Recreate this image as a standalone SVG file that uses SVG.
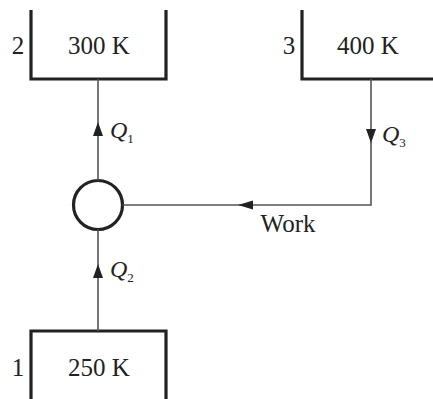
<svg xmlns="http://www.w3.org/2000/svg" width="433" height="399" viewBox="0 0 433 399">
<style>
.res{fill:none;stroke:#222;stroke-width:3.2}
.ln{fill:none;stroke:#555;stroke-width:1.6}
.t{font-family:"Liberation Serif","DejaVu Serif",serif;font-size:25px;fill:#222}
.q{font-family:"Liberation Serif","DejaVu Serif",serif;font-size:24px;font-style:italic;fill:#222}
.s{font-size:13px;font-style:normal}
</style>
<g id="reservoir2">
<path class="res" d="M31,10 V79 H166 V10"/>
<text class="t" x="18" y="54" text-anchor="middle">2</text>
<text class="t" x="99" y="54" text-anchor="middle">300 K</text>
</g>
<g id="reservoir3">
<path class="res" d="M302,10 V79 H433"/>
<text class="t" x="289" y="54" text-anchor="middle">3</text>
<text class="t" x="368" y="54" text-anchor="middle">400 K</text>
</g>
<g id="reservoir1">
<path class="res" d="M31,399 V331 H166 V399"/>
<text class="t" x="18" y="376" text-anchor="middle">1</text>
<text class="t" x="99" y="376" text-anchor="middle">250 K</text>
</g>
<g id="engine">
<circle cx="98" cy="205" r="24.5" fill="none" stroke="#222" stroke-width="3.2"/>
</g>
<g id="connectors">
<path class="ln" d="M98,180.5 V79"/>
<path d="M98,122 L93,136 L103,136 Z" fill="#222"/>
<path class="ln" d="M98,331 V229.5"/>
<path d="M98,264 L93,278 L103,278 Z" fill="#222"/>
<path class="ln" d="M371,79 V205 H122.5"/>
<path d="M371,143 L366,129 L376,129 Z" fill="#222"/>
<path d="M238,205 L253,200.5 L253,209.5 Z" fill="#222"/>
</g>
<g id="labels">
<text class="q" x="110" y="138">Q<tspan class="s" dy="5">1</tspan></text>
<text class="q" x="110" y="277">Q<tspan class="s" dy="5">2</tspan></text>
<text class="q" x="382" y="142">Q<tspan class="s" dy="5">3</tspan></text>
<text class="t" x="288" y="232" text-anchor="middle">Work</text>
</g>
</svg>
